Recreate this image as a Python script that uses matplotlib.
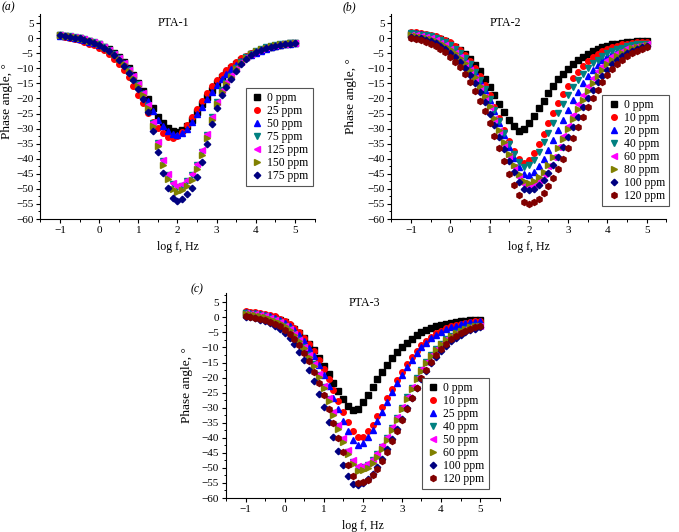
from matplotlib import pyplot as plt
from matplotlib.ticker import MultipleLocator

plt.rcParams['font.family'] = ['Liberation Serif', 'DejaVu Serif']

# log f grid (8 points per decade)
log_f = [-1.0, -0.875, -0.75, -0.625, -0.5, -0.375, -0.25, -0.125, 0.0, 0.125, 0.25, 0.375,
         0.5, 0.625, 0.75, 0.875, 1.0, 1.125, 1.25, 1.375, 1.5, 1.625, 1.75, 1.875, 2.0,
         2.125, 2.25, 2.375, 2.5, 2.625, 2.75, 2.875, 3.0, 3.125, 3.25, 3.375, 3.5, 3.625,
         3.75, 3.875, 4.0, 4.125, 4.25, 4.375, 4.5, 4.625, 4.75, 4.875, 5.0]

# (a) PTA-1, phase angle in degrees
pta1_0 = [0.9, 0.6, 0.4, 0.1, -0.1, -0.6, -1.1, -1.6, -2.1, -2.9, -3.7, -5.0, -6.3, -7.9, -9.9, -12.2, -14.8, -17.5, -20.3, -23.2, -26.1, -28.1, -29.7, -30.7, -31.0, -30.5, -29.1, -27.0, -24.5, -22.0, -19.5, -17.2, -14.9, -13.0, -11.5, -9.9, -8.7, -7.4, -6.2, -5.4, -4.7, -4.0, -3.4, -2.9, -2.5, -2.2, -1.9, -1.7, -1.6]
pta1_25 = [0.6, 0.3, 0.0, -0.2, -0.7, -1.3, -1.8, -2.3, -3.2, -4.0, -5.4, -6.8, -8.5, -10.6, -13.0, -15.8, -18.7, -21.6, -24.7, -27.8, -29.9, -31.6, -32.7, -33.0, -32.5, -31.0, -28.7, -26.1, -23.4, -20.8, -18.3, -15.8, -13.9, -12.2, -10.6, -9.2, -7.9, -6.6, -5.8, -5.0, -4.3, -3.6, -3.1, -2.6, -2.3, -2.0, -1.8, -1.7, -1.5]
pta1_50 = [0.8, 0.6, 0.4, 0.1, -0.2, -0.7, -1.2, -1.7, -2.2, -3.0, -3.9, -5.2, -6.5, -8.2, -10.2, -12.6, -15.3, -18.1, -21.0, -24.0, -27.0, -29.0, -30.7, -31.7, -32.0, -31.5, -30.1, -27.8, -25.3, -22.7, -20.2, -17.8, -15.4, -13.4, -11.8, -10.2, -9.0, -7.7, -6.4, -5.6, -4.8, -4.2, -3.5, -3.0, -2.6, -2.2, -1.9, -1.8, -1.6]
pta1_75 = [1.0, 0.8, 0.6, 0.3, 0.0, -0.3, -0.8, -1.3, -2.0, -2.8, -3.9, -5.1, -6.7, -8.5, -10.5, -12.8, -15.3, -18.4, -22.5, -28.1, -34.7, -40.8, -45.4, -48.5, -49.5, -49.0, -47.5, -45.5, -42.1, -37.6, -32.2, -26.2, -21.3, -17.3, -14.9, -12.4, -9.9, -7.9, -6.4, -5.2, -4.2, -3.6, -3.0, -2.6, -2.3, -2.1, -1.9, -1.7, -1.5]
pta1_125 = [1.0, 0.8, 0.6, 0.3, 0.0, -0.3, -0.8, -1.3, -1.9, -2.8, -3.8, -5.1, -6.6, -8.4, -10.4, -12.6, -15.2, -18.2, -22.2, -27.8, -34.4, -40.4, -45.0, -48.0, -49.0, -48.5, -47.0, -45.1, -41.7, -37.2, -31.9, -26.0, -21.1, -17.2, -14.7, -12.3, -9.8, -7.8, -6.4, -5.1, -4.2, -3.5, -3.0, -2.6, -2.3, -2.1, -1.9, -1.7, -1.5]
pta1_150 = [1.0, 0.8, 0.6, 0.3, 0.0, -0.4, -0.9, -1.4, -2.1, -3.0, -4.0, -5.3, -6.9, -8.7, -10.8, -13.2, -15.8, -19.0, -23.2, -29.0, -35.8, -42.1, -46.8, -50.0, -51.0, -50.5, -49.0, -46.9, -43.4, -38.8, -33.2, -27.0, -21.9, -17.9, -15.3, -12.8, -10.2, -8.2, -6.6, -5.4, -4.3, -3.7, -3.1, -2.7, -2.4, -2.1, -1.9, -1.7, -1.6]
pta1_175 = [0.9, 0.7, 0.5, 0.2, -0.1, -0.5, -1.0, -1.6, -2.3, -3.2, -4.3, -5.7, -7.4, -9.3, -11.5, -14.0, -16.8, -20.2, -24.6, -30.7, -37.9, -44.6, -49.6, -52.9, -54.0, -53.5, -51.8, -49.7, -45.9, -41.0, -35.1, -28.6, -23.2, -18.9, -16.2, -13.5, -10.8, -8.6, -7.0, -5.7, -4.6, -3.9, -3.3, -2.9, -2.5, -2.3, -2.1, -1.8, -1.7]

# (b) PTA-2
pta2_0 = [1.3, 1.2, 1.0, 0.8, 0.5, 0.1, -0.4, -1.0, -1.8, -2.8, -3.9, -5.3, -7.0, -8.9, -11.0, -13.5, -16.1, -18.8, -21.7, -24.5, -27.1, -29.3, -30.8, -30.3, -28.3, -25.8, -23.2, -20.7, -18.2, -15.9, -13.7, -11.8, -10.1, -8.6, -7.2, -6.1, -5.1, -4.3, -3.6, -3.0, -2.5, -2.1, -1.8, -1.5, -1.3, -1.2, -1.0, -0.9, -0.8]
pta2_10 = [2.1, 2.0, 1.8, 1.5, 1.2, 0.8, 0.2, -0.5, -1.4, -2.6, -3.9, -5.6, -7.6, -9.9, -12.6, -15.7, -19.0, -22.7, -26.5, -30.4, -34.1, -37.5, -40.1, -41.5, -40.3, -38.0, -35.0, -31.8, -28.3, -24.9, -21.6, -18.6, -15.8, -13.3, -11.1, -9.2, -7.6, -6.3, -5.1, -4.2, -3.5, -2.9, -2.5, -2.1, -1.8, -1.6, -1.4, -1.3, -1.2]
pta2_20 = [1.8, 1.6, 1.3, 1.0, 0.6, 0.1, -0.5, -1.4, -2.4, -3.6, -5.1, -6.8, -8.9, -11.3, -14.1, -17.2, -20.6, -24.3, -28.1, -32.1, -36.0, -39.6, -42.7, -44.9, -45.4, -44.3, -42.5, -40.0, -37.1, -33.9, -30.5, -27.1, -23.8, -20.6, -17.7, -15.0, -12.7, -10.6, -8.8, -7.3, -6.0, -5.0, -4.2, -3.5, -3.0, -2.6, -2.3, -2.1, -1.9]
pta2_40 = [1.6, 1.5, 1.2, 1.0, 0.6, 0.1, -0.5, -1.3, -2.3, -3.5, -4.9, -6.7, -8.7, -11.1, -13.8, -16.8, -20.2, -23.8, -27.6, -31.4, -35.1, -38.5, -41.2, -42.9, -42.2, -40.3, -37.6, -34.6, -31.4, -28.1, -24.9, -21.8, -19.0, -16.3, -14.0, -11.9, -10.0, -8.4, -7.1, -6.0, -5.0, -4.2, -3.6, -3.1, -2.7, -2.4, -2.1, -1.9, -1.8]
pta2_60 = [1.2, 1.0, 0.7, 0.3, -0.1, -0.7, -1.5, -2.4, -3.5, -4.8, -6.4, -8.4, -10.6, -13.2, -16.1, -19.4, -23.0, -26.9, -30.9, -35.1, -39.1, -42.9, -46.1, -48.4, -48.9, -48.3, -46.9, -44.9, -42.4, -39.4, -36.1, -32.6, -29.0, -25.5, -22.0, -18.9, -15.9, -13.3, -11.0, -9.1, -7.4, -6.0, -4.9, -4.1, -3.4, -2.9, -2.5, -2.2, -2.0]
pta2_80 = [1.0, 0.8, 0.5, 0.2, -0.3, -0.9, -1.6, -2.5, -3.6, -4.9, -6.5, -8.3, -10.5, -13.0, -15.9, -19.1, -22.6, -26.4, -30.4, -34.4, -38.3, -42.0, -45.1, -47.4, -47.9, -47.4, -46.2, -44.4, -42.2, -39.5, -36.5, -33.3, -30.0, -26.7, -23.4, -20.4, -17.5, -14.9, -12.5, -10.5, -8.7, -7.2, -5.9, -4.9, -4.1, -3.4, -2.9, -2.5, -2.2]
pta2_100 = [0.5, 0.2, -0.1, -0.5, -1.1, -1.7, -2.5, -3.5, -4.8, -6.2, -7.9, -10.0, -12.3, -15.0, -18.0, -21.3, -25.0, -28.8, -32.9, -36.9, -40.9, -44.5, -47.7, -49.9, -50.5, -49.9, -48.7, -47.0, -44.8, -42.2, -39.3, -36.1, -32.8, -29.5, -26.2, -23.0, -20.0, -17.2, -14.7, -12.4, -10.4, -8.7, -7.2, -6.0, -5.0, -4.2, -3.5, -3.0, -2.6]
pta2_120 = [0.0, -0.3, -0.7, -1.2, -1.9, -2.6, -3.6, -4.7, -6.1, -7.8, -9.7, -11.9, -14.5, -17.4, -20.7, -24.3, -28.1, -32.3, -36.5, -40.8, -45.0, -48.8, -52.1, -54.4, -54.9, -54.4, -53.2, -51.4, -49.2, -46.5, -43.4, -40.1, -36.6, -33.1, -29.6, -26.2, -22.9, -19.9, -17.1, -14.5, -12.3, -10.3, -8.6, -7.2, -6.0, -5.0, -4.2, -3.6, -3.0]

# (c) PTA-3
pta3_0 = [1.4, 1.3, 1.1, 0.9, 0.6, 0.2, -0.3, -0.9, -1.7, -2.7, -3.9, -5.3, -6.9, -8.8, -11.0, -13.4, -16.0, -18.8, -21.7, -24.5, -27.1, -29.3, -30.8, -30.3, -28.2, -25.8, -23.2, -20.6, -18.1, -15.7, -13.6, -11.6, -9.9, -8.4, -7.1, -6.0, -5.0, -4.2, -3.5, -2.9, -2.5, -2.1, -1.8, -1.5, -1.3, -1.1, -1.0, -0.9, -0.8]
pta3_10 = [2.0, 1.8, 1.7, 1.5, 1.2, 0.8, 0.3, -0.4, -1.2, -2.2, -3.4, -4.9, -6.7, -8.8, -11.3, -14.1, -17.2, -20.6, -24.1, -27.8, -31.5, -34.8, -37.7, -39.6, -39.6, -37.9, -35.6, -32.8, -29.8, -26.7, -23.7, -20.7, -18.0, -15.4, -13.2, -11.1, -9.3, -7.8, -6.5, -5.3, -4.4, -3.6, -3.0, -2.5, -2.1, -1.8, -1.5, -1.3, -1.2]
pta3_25 = [1.7, 1.6, 1.4, 1.1, 0.8, 0.4, -0.2, -0.9, -1.8, -2.9, -4.3, -6.0, -7.9, -10.2, -12.9, -15.9, -19.3, -22.9, -26.7, -30.6, -34.4, -37.8, -40.7, -42.4, -41.8, -39.9, -37.3, -34.4, -31.3, -28.1, -24.9, -21.9, -19.0, -16.4, -14.0, -11.9, -10.0, -8.4, -7.0, -5.8, -4.8, -4.0, -3.3, -2.7, -2.3, -1.9, -1.6, -1.4, -1.2]
pta3_40 = [1.4, 1.2, 1.0, 0.7, 0.3, -0.2, -0.9, -1.7, -2.7, -4.0, -5.6, -7.6, -9.8, -12.5, -15.6, -19.1, -23.0, -27.2, -31.7, -36.2, -40.6, -44.6, -47.9, -49.9, -49.8, -48.9, -47.5, -45.4, -42.9, -40.0, -36.8, -33.5, -30.0, -26.6, -23.4, -20.3, -17.4, -14.8, -12.5, -10.5, -8.8, -7.3, -6.1, -5.2, -4.4, -3.8, -3.3, -2.9, -2.7]
pta3_50 = [1.4, 1.2, 1.0, 0.7, 0.3, -0.2, -0.8, -1.7, -2.7, -4.0, -5.6, -7.5, -9.7, -12.4, -15.5, -18.9, -22.8, -26.9, -31.3, -35.8, -40.2, -44.1, -47.4, -49.4, -49.3, -48.4, -47.0, -45.0, -42.5, -39.6, -36.5, -33.1, -29.7, -26.4, -23.1, -20.1, -17.2, -14.7, -12.4, -10.4, -8.7, -7.3, -6.1, -5.1, -4.4, -3.8, -3.3, -2.9, -2.7]
pta3_60 = [1.2, 1.0, 0.8, 0.5, 0.1, -0.4, -1.1, -2.0, -3.0, -4.3, -5.9, -7.9, -10.2, -13.0, -16.1, -19.7, -23.6, -27.9, -32.4, -37.0, -41.4, -45.5, -48.8, -50.9, -50.8, -49.9, -48.4, -46.3, -43.8, -40.8, -37.5, -34.1, -30.6, -27.2, -23.8, -20.6, -17.7, -15.1, -12.7, -10.7, -8.9, -7.4, -6.2, -5.2, -4.4, -3.8, -3.3, -3.0, -2.7]
pta3_100 = [0.2, 0.0, -0.3, -0.8, -1.3, -2.0, -2.8, -3.9, -5.3, -6.9, -9.0, -11.4, -14.2, -17.5, -21.2, -25.4, -29.9, -34.7, -39.6, -44.5, -49.0, -52.8, -55.3, -55.6, -54.9, -53.7, -51.9, -49.6, -46.9, -43.8, -40.5, -37.1, -33.6, -30.2, -26.8, -23.6, -20.6, -17.8, -15.3, -13.0, -11.1, -9.4, -7.9, -6.7, -5.7, -4.9, -4.2, -3.7, -3.2]
pta3_120 = [0.3, 0.2, -0.1, -0.4, -0.8, -1.4, -2.1, -3.0, -4.1, -5.5, -7.2, -9.3, -11.7, -14.6, -18.0, -21.7, -25.9, -30.5, -35.2, -40.1, -44.8, -49.2, -52.7, -54.9, -54.8, -53.9, -52.4, -50.2, -47.6, -44.6, -41.2, -37.7, -34.0, -30.4, -26.8, -23.4, -20.3, -17.4, -14.8, -12.5, -10.5, -8.8, -7.3, -6.1, -5.2, -4.4, -3.8, -3.3, -3.0]

labels_a = ['0 ppm', '25 ppm', '50 ppm', '75 ppm', '125 ppm', '150 ppm', '175 ppm']
labels_b = ['0 ppm', '10 ppm', '20 ppm', '40 ppm', '60 ppm', '80 ppm', '100 ppm', '120 ppm']
labels_c = ['0 ppm', '10 ppm', '25 ppm', '40 ppm', '50 ppm', '60 ppm', '100 ppm', '120 ppm']

markers = ['s', 'o', '^', 'v', '<', '>', 'D', 'h']
sizes = [3.7, 4.0, 4.1, 4.1, 4.1, 4.1, 3.3, 4.3]
colors = ['#000000', '#ff0000', '#0000ff', '#008080', '#ff00ff', '#808000', '#000080', '#800000']


def style(ax, title, tx, ylab_x, ylab_y, leg_xy, labels):
    ax.set_xlim(-1.5, 5.5)
    ax.set_ylim(-60, 8)
    for s in ('top', 'right'):
        ax.spines[s].set_visible(False)
    for s in ('left', 'bottom'):
        ax.spines[s].set_linewidth(0.8)
    ax.xaxis.set_major_locator(MultipleLocator(1))
    ax.xaxis.set_minor_locator(MultipleLocator(0.5))
    ax.yaxis.set_major_locator(MultipleLocator(5))
    ax.yaxis.set_minor_locator(MultipleLocator(2.5))
    ax.tick_params(direction='out', length=3, width=0.8, labelsize=8, pad=2)
    ax.tick_params(which='minor', direction='out', length=1.8, width=0.7)
    ax.text(tx, 0.955, title, transform=ax.transAxes, ha='center', va='center', fontsize=8.6)
    ax.set_ylabel('Phase angle, °', fontsize=9.6)
    ax.yaxis.set_label_coords(ylab_x, ylab_y)
    ax.set_xlabel('log f, Hz', fontsize=8.6)
    ax.xaxis.set_label_coords(0.5, -0.105)
    leg = ax.legend(labels, loc='upper left', bbox_to_anchor=leg_xy, borderaxespad=0,
                    frameon=True, fancybox=False, edgecolor='#555555', framealpha=1,
                    fontsize=8.4, handlelength=1.3, handletextpad=0.2, labelspacing=0.08,
                    borderpad=0.35)
    leg.get_frame().set_linewidth(0.8)


fig = plt.figure(figsize=(6.79, 5.32), dpi=100)
ax_a = fig.add_axes([0.0595, 0.5883, 0.4038, 0.3853])
ax_b = fig.add_axes([0.5764, 0.5883, 0.4049, 0.3853])
ax_c = fig.add_axes([0.3328, 0.0639, 0.4031, 0.3848])

series_a = [pta1_0, pta1_25, pta1_50, pta1_75, pta1_125, pta1_150, pta1_175]
series_b = [pta2_0, pta2_10, pta2_20, pta2_40, pta2_60, pta2_80, pta2_100, pta2_120]
series_c = [pta3_0, pta3_10, pta3_25, pta3_40, pta3_50, pta3_60, pta3_100, pta3_120]

for ax, series in ((ax_a, series_a), (ax_b, series_b), (ax_c, series_c)):
    for i, ys in enumerate(series):
        ax.plot(log_f, ys, ls='none', marker=markers[i], ms=sizes[i], color=colors[i])

style(ax_a, 'PTA-1', 0.485, -0.1, 0.575, (0.749, 0.638), labels_a)
style(ax_b, 'PTA-2', 0.416, -0.125, 0.6, (0.766, 0.605), labels_b)
style(ax_c, 'PTA-3', 0.505, -0.122, 0.55, (0.715, 0.585), labels_c)

fig.text(0.003, 0.987, '(a)', ha='left', va='center', style='italic', fontsize=8.4)
fig.text(0.505, 0.987, '(b)', ha='left', va='center', style='italic', fontsize=8.4)
fig.text(0.28, 0.457, '(c)', ha='left', va='center', style='italic', fontsize=8.4)

fig.savefig('out.png', dpi=100)
